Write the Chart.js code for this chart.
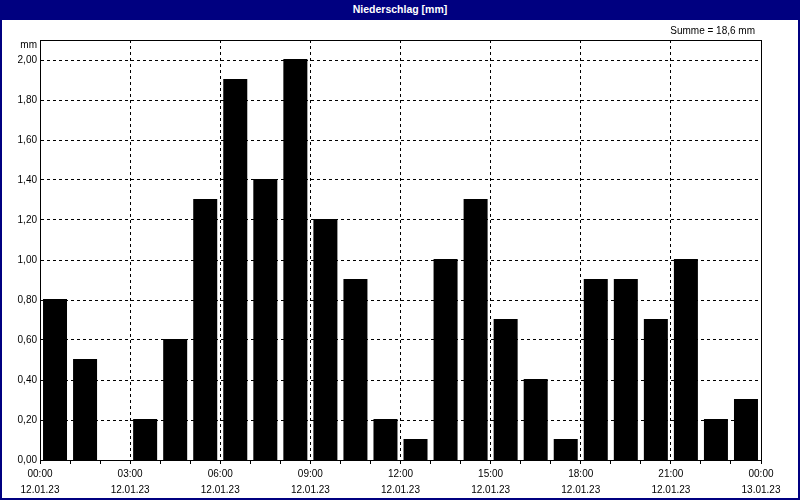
<!DOCTYPE html>
<html>
<head>
<meta charset="utf-8">
<script src="https://cdn.jsdelivr.net/npm/chart.js@4/dist/chart.umd.min.js"></script>
<style>
  html, body { margin: 0; padding: 0; background: #fff; }
  #frame { position: absolute; left: 0; top: 0; width: 800px; height: 500px; box-sizing: border-box;
           border: 2px solid #000080; border-top: none; background: #fff; }
  #titlebar { position: absolute; left: -2px; top: 0; width: 800px; height: 20px; background: #000080;
              color: #fff; font: bold 10.5px "Liberation Sans", Arial, sans-serif; text-align: center; line-height: 19px; }
  #wrap { position: absolute; left: 0; top: 20px; width: 796px; height: 478px; }
</style>
</head>
<body>
<div id="frame">
  <div id="titlebar">Niederschlag [mm]</div>
  <div id="wrap"><canvas id="c"></canvas></div>
</div>
<script>
// ---- data ----
const hours = [0,1,2,3,4,5,6,7,8,9,10,11,12,13,14,15,16,17,18,19,20,21,22,23];
const precipitation = [0.8,0.5,0.0,0.2,0.6,1.3,1.9,1.4,2.0,1.2,0.9,0.2,0.1,1.0,1.3,0.7,0.4,0.1,0.9,0.9,0.7,1.0,0.2,0.3];
const tickTimes = ['00:00','03:00','06:00','09:00','12:00','15:00','18:00','21:00','00:00'];
const tickDates = ['12.01.23','12.01.23','12.01.23','12.01.23','12.01.23','12.01.23','12.01.23','12.01.23','13.01.23'];
const yUnit = 'mm';
const sumLabel = 'Summe = 18,6 mm';

const FONT = '"Liberation Sans", Arial, sans-serif';
Chart.defaults.font.family = FONT;
Chart.defaults.font.size = 10;
Chart.defaults.color = '#000';

const points = hours.map((h, i) => ({ x: h + 0.5, y: precipitation[i] }));

const framePlugin = {
  id: 'framePlugin',
  afterDraw(chart) {
    const { ctx, chartArea: a } = chart;
    ctx.save();
    ctx.strokeStyle = '#000';
    ctx.lineWidth = 1;
    ctx.setLineDash([]);
    ctx.strokeRect(Math.round(a.left) + 0.5, Math.round(a.top) + 0.5,
                   Math.round(a.right - a.left), Math.round(a.bottom - a.top));
    ctx.fillStyle = '#000';
    ctx.font = '10px ' + FONT;
    ctx.textAlign = 'right';
    ctx.textBaseline = 'middle';
    ctx.fillText(yUnit, a.left - 3, a.top + 5);
    ctx.fillText(sumLabel, a.right - 6, a.top - 9);
    ctx.restore();
  }
};

new Chart(document.getElementById('c'), {
  type: 'bar',
  data: {
    datasets: [{
      data: points,
      backgroundColor: '#000',
      borderWidth: 0,
      inflateAmount: c => (c.raw && c.raw.y === 0) ? 0 : 1,
      barThickness: 22
    }]
  },
  options: {
    responsive: true,
    maintainAspectRatio: false,
    animation: false,
    events: [],
    layout: { padding: { top: 20, right: 37, left: 0, bottom: 0 } },
    plugins: { legend: { display: false }, tooltip: { enabled: false }, title: { display: false } },
    scales: {
      x: {
        type: 'linear',
        offset: false,
        min: 0, max: 24,
        afterFit(s) { s.height = 38; },
        afterBuildTicks(s) { s.ticks = hours.concat([24]).map(v => ({ value: v })); },
        ticks: {
          autoSkip: false, maxRotation: 0, minRotation: 0, padding: 2,
          font: { size: 10, lineHeight: 1.6 },
          callback(v) {
            if (v % 3 !== 0) return '';
            const k = v / 3;
            return [tickTimes[k], tickDates[k]];
          }
        },
        grid: {
          offset: false,
          drawTicks: true, tickLength: 4,
          color: c => (c.tick && c.tick.value % 3 === 0) ? '#000' : 'rgba(0,0,0,0)',
          tickColor: '#000',
          tickBorderDash: [],
          lineWidth: 1
        },
        border: { display: true, color: '#000', dash: [3, 3] }
      },
      y: {
        min: 0, max: 2.1,
        afterFit(s) { s.width = 38; },
        afterBuildTicks(s) {
          const t = [];
          for (let i = 0; i <= 10; i++) t.push({ value: i * 0.2 });
          s.ticks = t;
        },
        ticks: {
          padding: 3,
          font: { size: 10 },
          callback(v) { return v.toFixed(2).replace('.', ','); }
        },
        grid: {
          drawTicks: false, tickLength: 0,
          color: '#000', lineWidth: 1
        },
        border: { display: true, color: '#000', dash: [3, 3] }
      }
    }
  },
  plugins: [framePlugin]
});
</script>
</body>
</html>
